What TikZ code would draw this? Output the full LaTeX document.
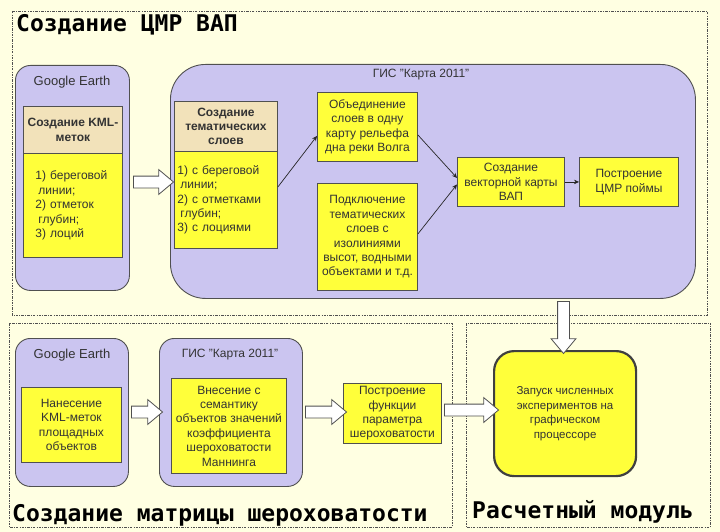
\documentclass[tikz,border=0pt]{standalone}
\usepackage{fontspec}
\setmainfont{Liberation Sans}
\newfontfamily\ttlfont{DejaVu Sans Mono}
\usetikzlibrary{shapes.arrows,arrows.meta,calc}
\definecolor{bg}{HTML}{FFFFE2}
\definecolor{lav}{HTML}{CBC5F0}
\definecolor{yel}{HTML}{FFFF3A}
\definecolor{beige}{HTML}{F2E2BA}
\definecolor{bord}{HTML}{505050}
\definecolor{txt}{HTML}{333333}
\tikzset{
  region/.style={draw=bord, line width=0.8pt, dash pattern=on 2.5pt off 1.2pt on 0.8pt off 1.2pt},
  titletext/.style={anchor=base west, inner sep=0pt, font=\ttlfont\bfseries\fontsize{23}{25}\selectfont, text=black},
  lavbox/.style={draw=bord, fill=lav, line width=0.9pt, anchor=north west, inner sep=0pt},
  lablav/.style={inner sep=0pt, text=txt, font=\fontsize{13}{15}\selectfont},
  ybox/.style={draw=bord, fill=yel, line width=0.9pt, anchor=north west, inner sep=1pt, align=center, text=txt, font=\fontsize{12}{14.4}\selectfont},
  hbox/.style={ybox, fill=beige, font=\bfseries\fontsize{12}{14.4}\selectfont},
  conn/.style={draw=black!85, line width=0.7pt, -{Stealth[length=5pt,width=4.5pt]}},
  blk/.style={single arrow, draw=bord, fill=white, line width=0.8pt, inner sep=0pt, text height=11pt, text depth=0pt, single arrow head extend=6.5pt, single arrow tip angle=80, minimum height=#1},
}
\begin{document}
\begin{tikzpicture}[x=1pt,y=-1pt]
\fill[bg] (0,0) rectangle (720,532);
\useasboundingbox (0,0) rectangle (720,532);
% regions
\draw[region] (12,11) rectangle (707,315);
\draw[region] (9,323) rectangle (452,527);
\draw[region] (466,323) rectangle (710,527);
\node[titletext] (t1) at (16,32) {Создание ЦМР ВАП};
\node[titletext] (t2) at (12,521) {Создание матрицы шероховатости};
\node[titletext] (t3) at (472,518) {Расчетный модуль};
% top left
\node[lavbox, rounded corners=15pt, minimum width=114pt, minimum height=225pt] (ge1) at (15,65) {};
\node[lablav] (ge1l) at (72,82) {Google Earth};
\node[hbox, minimum width=99pt, minimum height=47pt] (kmlh) at (23,106) {Создание KML-\\меток};
\node[ybox, minimum width=99pt, minimum height=104pt, text width=75pt, align=left] (kmlb) at (23,153) {1) береговой\\\hspace{3pt}линии;\\2) отметок\\\hspace{3pt}глубин;\\3) лоций\\[6pt]};
% top GIS
\node[lavbox, rounded corners=35pt, minimum width=525pt, minimum height=234pt] (gis1) at (170,64) {};
\node[lablav, font=\fontsize{12}{14}\selectfont] (gis1l) at (421,75) {ГИС "Карта 2011"};
\node[hbox, minimum width=103pt, minimum height=50pt] (themh) at (174,101) {Создание\\тематических\\слоев};
\node[ybox, minimum width=103pt, minimum height=97pt, text width=97pt, align=left] (themb) at (174,151) {1) с береговой\\\hspace{3pt}линии;\\2) с отметками\\\hspace{3pt}глубин;\\3) с лоциями\\[4pt]};
\node[ybox, minimum width=100pt, minimum height=69pt] (ob) at (317,92) {Объединение\\слоев в одну\\карту рельефа\\дна реки Волга};
\node[ybox, minimum width=100pt, minimum height=107pt] (pod) at (317,183) {Подключение\\тематических\\слоев с\\изолиниями\\высот, водными\\объектами и т.д.};
\node[ybox, minimum width=107pt, minimum height=49pt] (vec) at (457,157) {Создание\\векторной карты\\ВАП};
\node[ybox, minimum width=99pt, minimum height=49pt] (post) at (579,157) {Построение\\ЦМР поймы};
\draw[conn] ([yshift=13pt]themb.east) -- ([yshift=-9pt]ob.west);
\draw[conn] ([yshift=-8pt]ob.east) -- ([yshift=4pt]vec.west);
\draw[conn] ([yshift=3pt]pod.east) -- ([yshift=-2.5pt]vec.west);
\draw[conn] (vec.east) -- (post.west);
% bottom left
\node[lavbox, rounded corners=15pt, minimum width=113pt, minimum height=148pt] (ge2) at (15,338) {};
\node[lablav] (ge2l) at (72,355) {Google Earth};
\node[ybox, minimum width=100pt, minimum height=75pt] (nan) at (21,387) {Нанесение\\KML-меток\\площадных\\объектов};
\node[lavbox, rounded corners=15pt, minimum width=143pt, minimum height=148pt] (gis2) at (159,338) {};
\node[lablav, font=\fontsize{12}{14}\selectfont] (gis2l) at (230,355) {ГИС "Карта 2011"};
\node[ybox, minimum width=115pt, minimum height=95pt] (vn) at (171,378) {Внесение с\\семантику\\объектов значений\\коэффициента\\шероховатости\\Маннинга};
\node[ybox, minimum width=98pt, minimum height=60pt] (fn) at (343,383) {Построение\\функции\\параметра\\шероховатости};
\node[ybox, rounded corners=20pt, line width=2.2pt, draw=black!75, minimum width=142pt, minimum height=125pt, font=\fontsize{11.5}{14.5}\selectfont] (zap) at (493,350) {Запуск численных\\экспериментов на\\графическом\\процессоре};
% block arrows
\node[blk=40pt] (a1) at (150,182) {};
\node[blk=31pt] (a2) at (143.5,412) {};
\node[blk=41pt] (a3) at (322.5,412) {};
\node[blk=54pt] (a4) at (468,410) {};
\node[blk=52pt, rotate=-90] (a5) at (563.5,324) {};
\end{tikzpicture}
\end{document}
